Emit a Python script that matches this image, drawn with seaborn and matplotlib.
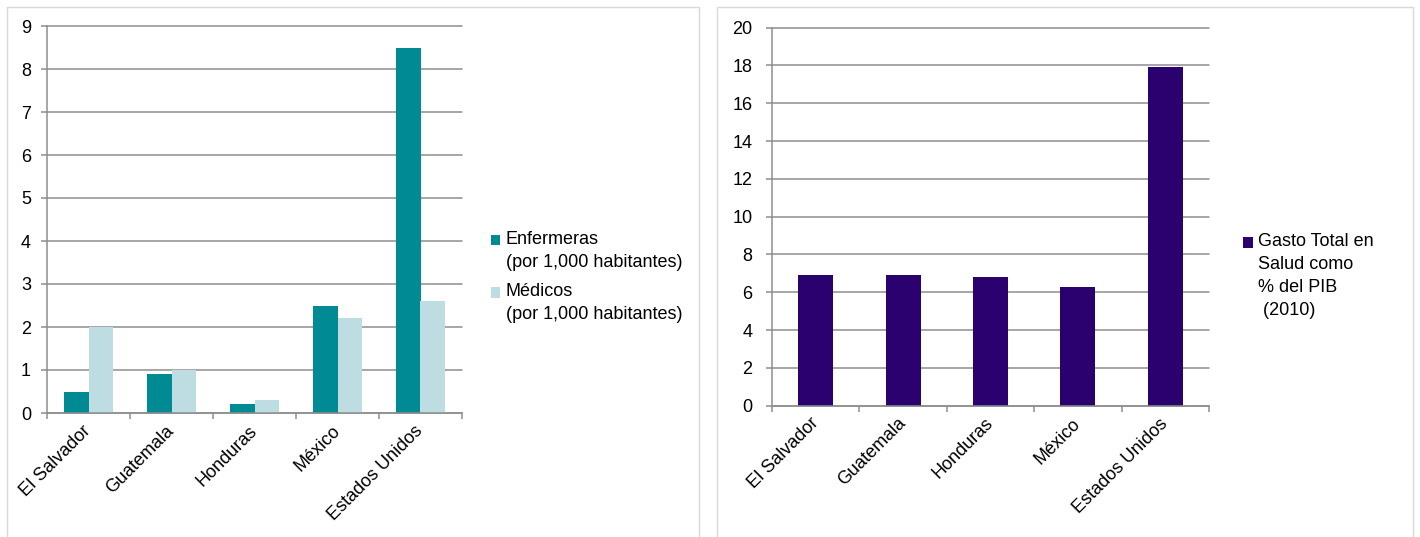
import matplotlib
matplotlib.use("Agg")
import matplotlib.pyplot as plt
import matplotlib.patches as mpatches
from matplotlib.legend_handler import HandlerPatch
import seaborn as sns
import pandas as pd
import numpy as np

# ---------------- data ----------------
countries = ["El Salvador", "Guatemala", "Honduras", "México", "Estados Unidos"]
enfermeras = [0.5, 0.9, 0.2, 2.5, 8.5]
medicos = [2.0, 1.0, 0.3, 2.2, 2.6]
gasto_pib = [6.9, 6.9, 6.8, 6.3, 17.9]
label_enf = "Enfermeras\n(por 1,000 habitantes)"
label_med = "Médicos\n(por 1,000 habitantes)"
label_gasto = "Gasto Total en\nSalud como\n% del PIB\n (2010)"
left_yticks = list(range(0, 10, 1))
right_yticks = list(range(0, 21, 2))

# ---------------- style ----------------
TEAL = "#008A94"
LIGHT = "#BEDDE3"
PURPLE = "#2B006F"
GRID = "#8E8E8E"
FRAME = "#D9D9D9"
FS = 13
LINESP = 1.45
STEP = 1.22  # legend line step in units of fontsize

W, H = 1420, 537
sns.set_theme(style="white")
plt.rcParams['font.family'] = ['Liberation Sans', 'DejaVu Sans']

fig = plt.figure(figsize=(W / 100, H / 100), dpi=100)


def px_axes(x0, y0, x1, y1):
    return fig.add_axes([x0 / W, (H - y1) / H, (x1 - x0) / W, (y1 - y0) / H])


# panel frames
for (x0, x1) in [(7, 699), (717, 1413)]:
    fig.patches.append(mpatches.Rectangle(
        (x0 / W, -0.05), (x1 - x0) / W, (H - 7) / H + 0.05,
        transform=fig.transFigure, fill=False, edgecolor=FRAME, lw=1.0))


def style(ax, yticks, ypad, xpad):
    ax.set_xlim(-0.5, len(countries) - 0.5)
    ax.set_ylim(yticks[0], yticks[-1])
    ax.set_yticks(yticks)
    ax.set_yticklabels([str(t) for t in yticks])
    ax.yaxis.grid(True, color=GRID, lw=1.1)
    ax.xaxis.grid(False)
    for gl in ax.get_ygridlines():
        gl.set_clip_on(False)
    ax.set_axisbelow(True)
    for s in ["top", "right"]:
        ax.spines[s].set_visible(False)
    for s in ["left", "bottom"]:
        ax.spines[s].set_color(GRID)
        ax.spines[s].set_linewidth(1.1)
    ax.set_xlabel("")
    ax.set_ylabel("")
    ax.tick_params(axis='y', left=True, length=4.5, width=1.1, color=GRID,
                   pad=ypad, labelsize=FS, labelcolor="black")
    ax.tick_params(axis='x', which='major', bottom=True, length=0, pad=xpad,
                   labelsize=FS, labelcolor="black")
    ax.set_xticks(np.arange(-0.5, len(countries), 1), minor=True)
    ax.tick_params(axis='x', which='minor', bottom=True, length=4.5, width=1.1,
                   color=GRID)
    plt.setp(ax.get_xticklabels(), rotation=45, ha='right', va='center',
             rotation_mode='anchor')


def top_aligned_handler(nlines):
    def f(legend, orig_handle, xdescent, ydescent, width, height, fontsize):
        shift = (nlines - 1) / 2 * STEP * fontsize
        return mpatches.Rectangle((-xdescent, -ydescent + shift), width, height)
    return HandlerPatch(patch_func=f)


# ---------------- left chart ----------------
ax1 = px_axes(47, 26, 462, 413)
df1 = pd.DataFrame({
    "País": countries * 2,
    "Valor": enfermeras + medicos,
    "Serie": [label_enf] * len(countries) + [label_med] * len(countries),
})
sns.barplot(data=df1, x="País", y="Valor", hue="Serie", order=countries,
            hue_order=[label_enf, label_med], palette=[TEAL, LIGHT],
            saturation=1, width=0.58, linewidth=0, legend=False, ax=ax1)
style(ax1, left_yticks, ypad=7, xpad=11)

h_enf = ax1.containers[0][0]
h_med = ax1.containers[1][0]
leg1 = ax1.legend([h_enf, h_med], [label_enf, label_med],
                  handler_map={h_enf: top_aligned_handler(2), h_med: top_aligned_handler(2)},
                  loc="upper left", bbox_to_anchor=(491 / W, (H - 231) / H),
                  bbox_transform=fig.transFigure, frameon=False, fontsize=FS,
                  borderpad=0, borderaxespad=0, handlelength=0.52, handleheight=0.52,
                  handletextpad=0.3, labelspacing=0.7, labelcolor="black")
for t in leg1.get_texts():
    t.set_linespacing(LINESP)

# ---------------- right chart ----------------
ax2 = px_axes(772, 27.7, 1209, 405.7)
df2 = pd.DataFrame({"País": countries, "Gasto": gasto_pib})
sns.barplot(data=df2, x="País", y="Gasto", order=countries, color=PURPLE,
            saturation=1, width=0.40, linewidth=0, legend=False, ax=ax2)
style(ax2, right_yticks, ypad=9.5, xpad=11)

h_g = ax2.containers[0][0]
leg2 = ax2.legend([h_g], [label_gasto], handler_map={h_g: top_aligned_handler(4)},
                  loc="upper left", bbox_to_anchor=(1243 / W, (H - 233) / H),
                  bbox_transform=fig.transFigure, frameon=False, fontsize=FS,
                  borderpad=0, borderaxespad=0, handlelength=0.55, handleheight=0.55,
                  handletextpad=0.28, labelcolor="black")
for t in leg2.get_texts():
    t.set_linespacing(LINESP)

fig.savefig("out.png", dpi=100)
